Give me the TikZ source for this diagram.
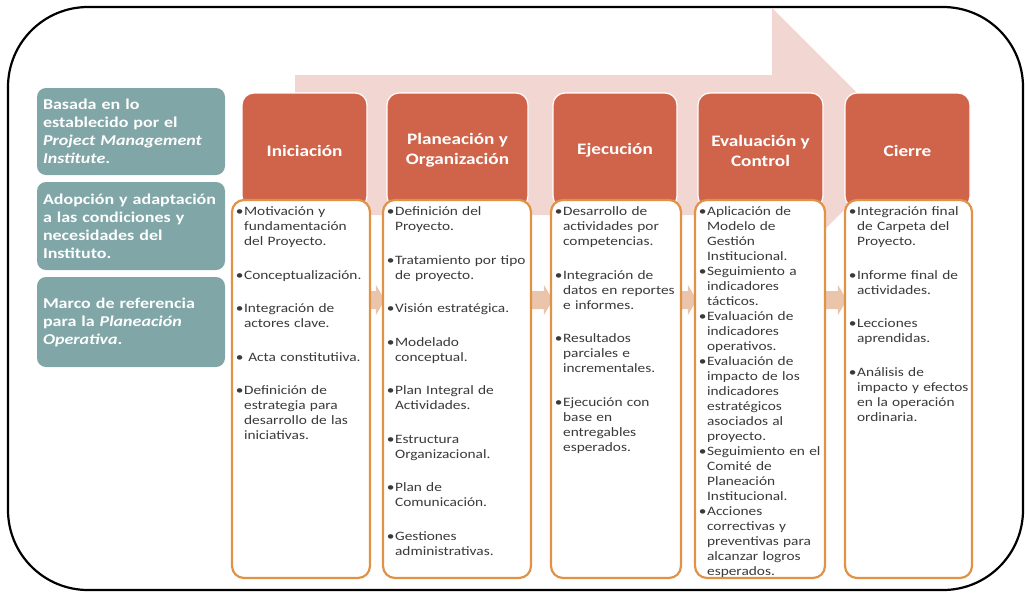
\documentclass[tikz,border=0pt]{standalone}
\usepackage{fontspec}
\setmainfont{Carlito}[FakeStretch=1.2]
\usetikzlibrary{calc,positioning,backgrounds}

\definecolor{tealbox}{RGB}{128,166,167}
\definecolor{hdrred}{RGB}{208,100,74}
\definecolor{arrowpink}{RGB}{242,214,209}
\definecolor{detborder}{RGB}{224,146,70}
\definecolor{chevtan}{RGB}{234,197,171}
\definecolor{dettext}{RGB}{58,58,58}

\newcommand{\vin}{\leavevmode\llap{\textbullet\hspace{0.6pt}}}

\tikzset{
	side/.style={fill=tealbox, rounded corners=9pt, text=white, text width=176pt, align=left,
		inner xsep=6pt, inner ysep=8pt, font=\fontsize{15}{18}\selectfont\bfseries},
	hdr/.style={fill=hdrred, draw=white, line width=1.2pt, rounded corners=12pt, text=white,
		align=center, minimum height=115pt, font=\fontsize{16}{20}\selectfont\bfseries},
	det/.style={draw=detborder, line width=2.2pt, fill=white, rounded corners=12pt, minimum height=378pt},
	dtxt/.style={inner sep=0pt, text width=#1, align=left, text=dettext,
		font=\fontsize{12.8}{15}\selectfont},
	chev/.style={fill=chevtan}
}

\begin{document}
\begin{tikzpicture}[x=1pt,y=-1pt]
	\useasboundingbox (0,0) rectangle (1025,592);
	\draw[line width=2.2pt, rounded corners=80pt] (8,7) rectangle (1023,590);

	% flecha de fondo
	\fill[arrowpink] (295,75) -- (772,75) -- (772,8) -- (909,145) -- (772,282) -- (772,215) -- (295,215) -- cycle;

	% columna izquierda
	\node[side, minimum height=87pt] (basada) at (131,131.5) {Basada en lo\\establecido por el\\\textit{Project Management}\\\textit{Institute}.};
	\node[side, minimum height=88pt] (adopcion) at (131,226) {Adopción y adaptación\\a las condiciones y\\necesidades del\\Instituto.};
	\node[side, minimum height=90pt] (marco) at (131,322) {Marco de referencia\\para la \textit{Planeación}\\\textit{Operativa}.};

	% etapas
	\node[hdr, minimum width=125pt] (ini) at (304.5,150.5) {Iniciación};
	\node[hdr, minimum width=141pt] (pla) at (457.5,150.5) {Planeación y\\Organización};
	\node[hdr, minimum width=124pt] (eje) at (615,150.5) {Ejecución};
	\node[hdr, minimum width=125pt] (eva) at (760.5,150.5) {Evaluación y\\Control};
	\node[hdr, minimum width=125pt] (cie) at (907.5,150.5) {Cierre};

	\node[det, minimum width=138pt] (ini-d) at (301,389) {};
	\node[det, minimum width=148pt] (pla-d) at (457,389) {};
	\node[det, minimum width=130pt] (eje-d) at (616,389) {};
	\node[det, minimum width=130pt] (eva-d) at (760,389) {};
	\node[det, minimum width=127pt] (cie-d) at (908.5,389) {};

	\begin{pgfonlayer}{background}
		\foreach \a/\b in {ini-d/pla-d, pla-d/eje-d, eje-d/eva-d, eva-d/cie-d}
			\fill[chev] ($(\a.east)+(-4,-80)$) -- ($(\b.west)+(-6,-80)$) -- ($(\b.west)+(-6,-74)$)
				-- ($(\b.west)+(3,-89)$) -- ($(\b.west)+(-6,-104)$) -- ($(\b.west)+(-6,-98)$)
				-- ($(\a.east)+(-4,-98)$) -- cycle;
	\end{pgfonlayer}

	\node[dtxt=130pt, below right=8pt and 6pt of ini-d.north west] (ini-t) {\leftskip=7pt
		\vin Motivación y\\fundamentación\\del Proyecto.\\[18.5pt]
		\vin Conceptualización.\\[18.5pt]
		\vin Integración de\\actores clave.\\[18.5pt]
		\vin\ Acta constitutiiva.\\[18.5pt]
		\vin Definición de\\estrategia para\\desarrollo de las\\iniciativas.\par};
	\node[dtxt=140pt, below right=8pt and 6pt of pla-d.north west] (pla-t) {\leftskip=7pt
		\vin Definición del\\Proyecto.\\[18.5pt]
		\vin Tratamiento por tipo\\de proyecto.\\[18.5pt]
		\vin Visión estratégica.\\[18.5pt]
		\vin Modelado\\conceptual.\\[18.5pt]
		\vin Plan Integral de\\Actividades.\\[18.5pt]
		\vin Estructura\\Organizacional.\\[18.5pt]
		\vin Plan de\\Comunicación.\\[18.5pt]
		\vin Gestiones\\administrativas.\par};
	\node[dtxt=124pt, below right=8pt and 6pt of eje-d.north west] (eje-t) {\leftskip=7pt
		\vin Desarrollo de\\actividades por\\competencias.\\[18.5pt]
		\vin Integración de\\datos en reportes\\e informes.\\[18.5pt]
		\vin Resultados\\parciales e\\incrementales.\\[18.5pt]
		\vin Ejecución con\\base en\\entregables\\esperados.\par};
	\node[dtxt=124pt, below right=8pt and 6pt of eva-d.north west] (eva-t) {\leftskip=7pt
		\vin Aplicación de\\Modelo de\\Gestión\\Institucional.\\
		\vin Seguimiento a\\indicadores\\tácticos.\\
		\vin Evaluación de\\indicadores\\operativos.\\
		\vin Evaluación de\\impacto de los\\indicadores\\estratégicos\\asociados al\\proyecto.\\
		\vin Seguimiento en el\\Comité de\\Planeación\\Institucional.\\
		\vin Acciones\\correctivas y\\preventivas para\\alcanzar logros\\esperados.\par};
	\node[dtxt=122pt, below right=8pt and 6pt of cie-d.north west] (cie-t) {\leftskip=7pt
		\vin Integración final\\de Carpeta del\\Proyecto.\\[18.5pt]
		\vin Informe final de\\actividades.\\[18.5pt]
		\vin Lecciones\\aprendidas.\\[18.5pt]
		\vin Análisis de\\impacto y efectos\\en la operación\\ordinaria.\par};
\end{tikzpicture}
\end{document}
